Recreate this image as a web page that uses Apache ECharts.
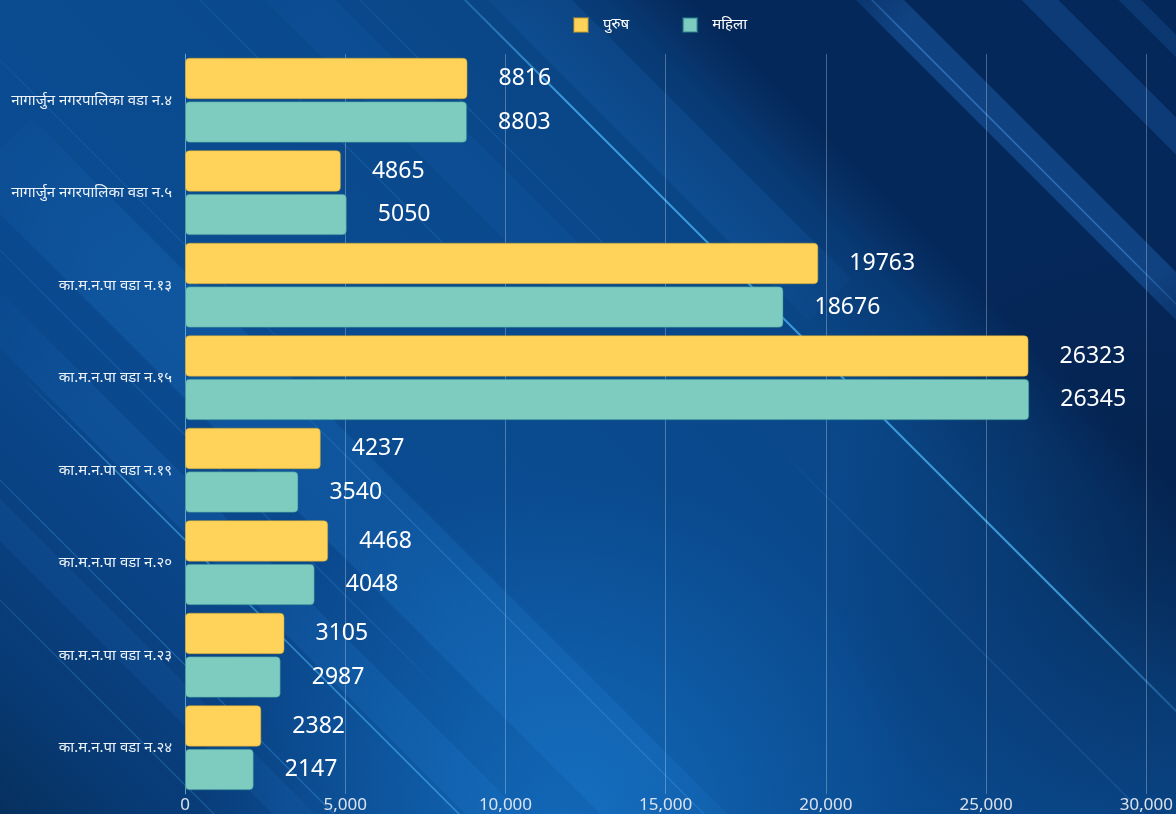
<!DOCTYPE html>
<html><head><meta charset="utf-8">
<script src="https://cdn.jsdelivr.net/npm/echarts@6/dist/echarts.min.js"></script>
<style>html,body{margin:0;padding:0;background:#083a75}#c{width:1176px;height:814px}</style>
</head><body><div id="c"></div>
<script>
const categories = [
  'नागार्जुन नगरपालिका वडा न.४',
  'नागार्जुन नगरपालिका वडा न.५',
  'का.म.न.पा वडा न.१३',
  'का.म.न.पा वडा न.१५',
  'का.म.न.पा वडा न.१९',
  'का.म.न.पा वडा न.२०',
  'का.म.न.पा वडा न.२३',
  'का.म.न.पा वडा न.२४'
];
const seriesNames = ['पुरुष', 'महिला'];
const maleValues = [8816, 4865, 19763, 26323, 4237, 4468, 3105, 2382];
const femaleValues = [8803, 5050, 18676, 26345, 3540, 4048, 2987, 2147];
const xMin = 0, xMax = 30000, xStep = 5000;

const W = 1176, H = 814;
// diagonal background streak along direction (1,1): d = x - y
function streak(d, yFrom, yTo, rgb, alpha, width) {
  return { type: 'line', z: -90, silent: true,
    shape: { x1: d + yFrom, y1: yFrom, x2: d + yTo, y2: yTo },
    style: { lineWidth: width, stroke: { type: 'linear', x: 0, y: 0, x2: 1, y2: 1, colorStops: [
      { offset: 0, color: 'rgba(' + rgb + ',0)' },
      { offset: 0.2, color: 'rgba(' + rgb + ',' + alpha + ')' },
      { offset: 0.8, color: 'rgba(' + rgb + ',' + alpha + ')' },
      { offset: 1, color: 'rgba(' + rgb + ',0)' } ] } } };
}
function ds(d) { return (d + 814) / 1628; }
const bg = [
  { type: 'rect', z: -100, silent: true, shape: { x: 0, y: 0, width: W, height: H },
    style: { fill: { type: 'linear', x: 0, y: 814, x2: 814, y2: 0, global: true, colorStops: [
      { offset: ds(-814), color: '#06305e' },
      { offset: ds(-650), color: '#083b76' },
      { offset: ds(-400), color: '#0a4588' },
      { offset: ds(-150), color: '#0b4b91' },
      { offset: ds(100), color: '#0a4a8e' },
      { offset: ds(350), color: '#0a488b' },
      { offset: ds(480), color: '#0a4686' },
      { offset: ds(600), color: '#083a74' },
      { offset: ds(690), color: '#05285a' },
      { offset: ds(814), color: '#05285a' } ] } } },
  { type: 'rect', z: -95, silent: true, shape: { x: 0, y: 0, width: W, height: H },
    style: { fill: { type: 'radial', x: 560, y: 830, r: 360, global: true, colorStops: [
      { offset: 0, color: 'rgba(25,135,225,0.5)' },
      { offset: 1, color: 'rgba(25,135,225,0)' } ] } } },
  { type: 'rect', z: -95, silent: true, shape: { x: 0, y: 0, width: W, height: H },
    style: { fill: { type: 'radial', x: 1150, y: 560, r: 330, global: true, colorStops: [
      { offset: 0, color: 'rgba(3,25,60,0.45)' },
      { offset: 1, color: 'rgba(3,25,60,0)' } ] } } },
  // soft bands
  streak(530, -40, 300, '40,130,225', 0.12, 60),
  streak(300, -40, 300, '40,130,225', 0.08, 50),
  streak(-150, 150, 900, '40,150,240', 0.14, 90),
  streak(-320, 300, 900, '40,150,240', 0.12, 40),
  streak(880, -40, 340, '45,135,235', 0.28, 34),
  streak(1040, -40, 180, '45,135,235', 0.2, 26),
  streak(1130, -40, 80, '45,135,235', 0.16, 16),
  streak(-520, 400, 900, '40,130,225', 0.1, 30),
  // thin bright lines
  streak(465, -60, 760, '80,190,255', 0.7, 2),
  streak(872, -40, 330, '80,170,255', 0.45, 1.5),
  streak(-355, 380, 900, '80,190,255', 0.55, 1.5),
  streak(-480, 420, 900, '80,180,255', 0.3, 1.2),
  streak(-600, 560, 900, '80,180,255', 0.25, 1.2),
  streak(-110, 380, 900, '80,180,255', 0.25, 1.2),
  streak(200, -40, 300, '80,170,255', 0.15, 1.2),
  streak(360, -40, 300, '80,170,255', 0.15, 1.2),
  streak(-60, 0, 400, '80,170,255', 0.12, 1.2),
  streak(-250, 200, 700, '80,170,255', 0.18, 1.2),
  streak(330, 450, 900, '80,170,255', 0.18, 1.2)
];

const chart = echarts.init(document.getElementById('c'), null, { renderer: 'canvas' });
const fontFam = '"Noto Sans", "Noto Sans Devanagari", sans-serif';
chart.setOption({
  backgroundColor: 'transparent',
  graphic: bg,
  legend: {
    top: 12, left: 568,
    itemWidth: 14, itemHeight: 14, itemGap: 53,
    icon: 'rect',
    itemStyle: { borderRadius: 2 },
    textStyle: { color: '#ffffff', fontSize: 15, fontFamily: fontFam, padding: [0, 0, 0, 10] },
    data: seriesNames
  },
  grid: { left: 185, right: 28, top: 54, bottom: 20 },
  xAxis: {
    type: 'value', min: xMin, max: xMax, interval: xStep,
    axisLine: { show: false }, axisTick: { show: false },
    axisLabel: { color: '#dbe3ee', fontSize: 17, fontFamily: fontFam, margin: 3 },
    splitLine: { show: true, lineStyle: { color: 'rgba(255,255,255,0.28)', width: 1 } }
  },
  yAxis: {
    type: 'category', data: categories, inverse: true,
    axisLine: { show: true, lineStyle: { color: 'rgba(120,200,230,0.5)' } },
    axisTick: { show: false },
    axisLabel: { color: '#eef3f8', fontSize: 15, fontFamily: fontFam, margin: 13 }
  },
  series: [
    { name: seriesNames[0], type: 'bar', data: maleValues,
      barGap: '5%', barCategoryGap: '8%',
      itemStyle: { color: '#ffd35a', borderRadius: 4, borderColor: 'rgba(200,160,40,0.5)', borderWidth: 1 },
      label: { show: true, position: 'right', distance: 31, color: '#ffffff', fontSize: 23, fontFamily: fontFam } },
    { name: seriesNames[1], type: 'bar', data: femaleValues,
      barGap: '5%', barCategoryGap: '8%',
      itemStyle: { color: '#7eccc0', borderRadius: 4, borderColor: 'rgba(40,130,140,0.5)', borderWidth: 1 },
      label: { show: true, position: 'right', distance: 31, color: '#ffffff', fontSize: 23, fontFamily: fontFam } }
  ]
});
</script>
</body></html>
